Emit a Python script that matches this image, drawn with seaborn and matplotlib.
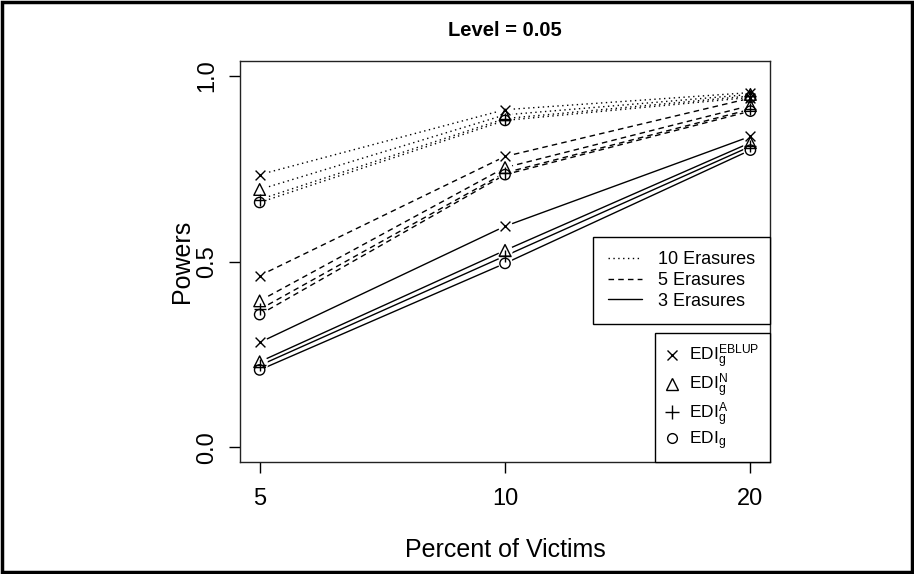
import numpy as np
import pandas as pd
import matplotlib
matplotlib.use('Agg')
import matplotlib.pyplot as plt
import seaborn as sns
from matplotlib.lines import Line2D
from matplotlib.patches import Rectangle

# dados
percentuais = ['5', '10', '20']
posicoes = [1, 2, 3]
erasures = ['10 Erasures', '5 Erasures', '3 Erasures']
metodos = ['EBLUP', 'N', 'A', 'plain']

pow_10 = {'EBLUP': [0.734, 0.909, 0.955],
          'N': [0.694, 0.895, 0.950],
          'A': [0.667, 0.885, 0.946],
          'plain': [0.659, 0.880, 0.942]}
pow_5 = {'EBLUP': [0.462, 0.783, 0.940],
         'N': [0.394, 0.753, 0.920],
         'A': [0.371, 0.739, 0.910],
         'plain': [0.357, 0.734, 0.905]}
pow_3 = {'EBLUP': [0.282, 0.595, 0.837],
         'N': [0.230, 0.530, 0.820],
         'A': [0.220, 0.515, 0.810],
         'plain': [0.208, 0.495, 0.800]}

linhas = []
for er, dados in zip(erasures, [pow_10, pow_5, pow_3]):
    for m in metodos:
        for p, v in zip(posicoes, dados[m]):
            linhas.append({'pos': p, 'power': v, 'erasure': er, 'metodo': m})
df = pd.DataFrame(linhas)

sns.set_style('ticks')
plt.rcParams['font.family'] = ['Liberation Sans', 'DejaVu Sans']
plt.rcParams['mathtext.fontset'] = 'custom'
plt.rcParams['mathtext.rm'] = 'Liberation Sans'
plt.rcParams['mathtext.it'] = 'Liberation Sans'
plt.rcParams['text.color'] = 'black'
plt.rcParams['axes.labelcolor'] = 'black'
plt.rcParams['xtick.color'] = 'black'
plt.rcParams['ytick.color'] = 'black'

dashes = {'10 Erasures': (1, 2.5), '5 Erasures': (4, 3), '3 Erasures': ''}
marcadores = {'EBLUP': 'x', 'N': '^', 'A': '+', 'plain': 'o'}
tam = {'EBLUP': 50, 'N': 70, 'A': 80, 'plain': 55}

fig = plt.figure(figsize=(9.14, 5.74), dpi=100)
ax = fig.add_axes([0.2626, 0.1951, 0.5799, 0.6986])

# linhas
for er in erasures:
    for m in metodos:
        sub = df[(df['erasure'] == er) & (df['metodo'] == m)]
        sns.lineplot(data=sub, x='pos', y='power', ax=ax, color='black',
                     lw=1.0, legend=False, zorder=1)
        if dashes[er]:
            ax.lines[-1].set_dashes(dashes[er])

# "buracos" em volta dos pontos (estilo type='b' do R)
ax.scatter(df['pos'], df['power'], s=110, color='white', zorder=2, lw=0)

# pontos
for m in metodos:
    sub = df[df['metodo'] == m]
    if marcadores[m] in ['x', '+']:
        ax.scatter(sub['pos'], sub['power'], marker=marcadores[m], s=tam[m],
                   color='black', lw=1.0, zorder=3)
    else:
        ax.scatter(sub['pos'], sub['power'], marker=marcadores[m], s=tam[m],
                   facecolors='none', edgecolors='black', lw=1.0, zorder=3)

ax.set_xlim(0.92, 3.08)
ax.set_ylim(-0.04, 1.04)
ax.set_xticks(posicoes)
ax.set_xticklabels(percentuais)
ax.set_yticks([0.0, 0.5, 1.0])
ax.set_yticklabels(['0.0', '0.5', '1.0'], rotation=90, va='center')
ax.tick_params(axis='both', length=8, width=1.0, labelsize=17)
ax.tick_params(axis='x', pad=11)
ax.tick_params(axis='y', pad=8)
for s in ax.spines.values():
    s.set_linewidth(1.0)
    s.set_color('#222222')
ax.set_xlabel('Percent of Victims', fontsize=18, labelpad=20)
ax.set_ylabel('Powers', fontsize=18, labelpad=1)
ax.set_title('Level = 0.05', fontsize=14.5, fontweight='bold', pad=18)

# legenda das linhas
h1 = [Line2D([0], [0], color='black', lw=1.0, dashes=dashes[er]) if dashes[er]
      else Line2D([0], [0], color='black', lw=1.0) for er in erasures]
leg1 = ax.legend(h1, erasures, loc='upper right', bbox_to_anchor=(1, 0.561),
                 borderaxespad=0, fancybox=False, edgecolor='black', framealpha=1,
                 fontsize=13, handlelength=1.9, handletextpad=0.9,
                 labelspacing=0.2, borderpad=0.8)
leg1.get_frame().set_linewidth(1.0)
ax.add_artist(leg1)

# legenda dos métodos
h2 = [Line2D([0], [0], ls='none', marker='x', color='black', ms=7, mew=1.0),
      Line2D([0], [0], ls='none', marker='^', color='black', mfc='none', ms=8, mew=1.0),
      Line2D([0], [0], ls='none', marker='+', color='black', ms=10, mew=1.0),
      Line2D([0], [0], ls='none', marker='o', color='black', mfc='none', ms=7, mew=1.0)]
rotulos = [r'EDI$_\mathrm{g}^\mathrm{EBLUP}$', r'EDI$_\mathrm{g}^\mathrm{N}$',
           r'EDI$_\mathrm{g}^\mathrm{A}$', r'EDI$_\mathrm{g}$']
leg2 = ax.legend(h2, rotulos, loc='lower right', bbox_to_anchor=(1, 0),
                 borderaxespad=0, fancybox=False, edgecolor='black', framealpha=1,
                 fontsize=12.5, handlelength=0.8, handletextpad=0.6,
                 labelspacing=0.02, borderpad=0.6)
leg2.get_frame().set_linewidth(1.0)

# moldura externa
fig.patches.append(Rectangle((0.002, 0.003), 0.996, 0.994, transform=fig.transFigure,
                             fill=False, lw=2.5, edgecolor='black'))

fig.savefig('out.png', dpi=100)
